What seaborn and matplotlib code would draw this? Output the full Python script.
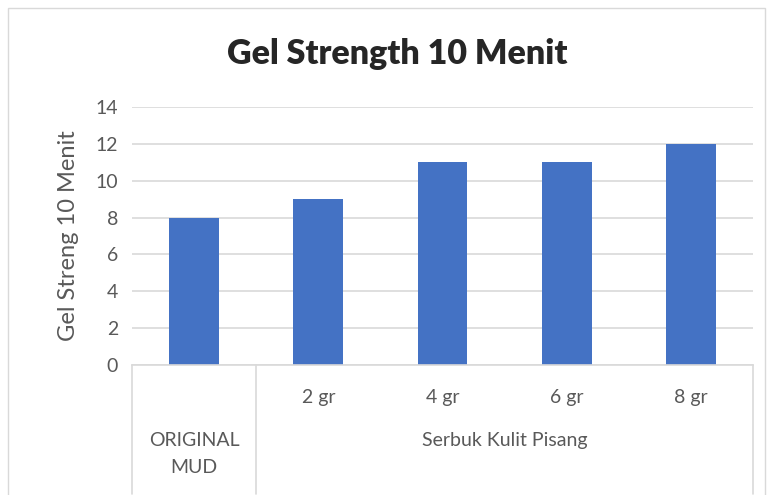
import matplotlib
matplotlib.use("Agg")
import matplotlib.pyplot as plt
import matplotlib.transforms as mtransforms
import seaborn as sns
import pandas as pd

# data
sub_labels = ["", "2 gr", "4 gr", "6 gr", "8 gr"]
group_labels = ["ORIGINAL\nMUD", "Serbuk Kulit Pisang"]
group_sizes = [1, 4]
values = [8, 9, 11, 11, 12]

df = pd.DataFrame({"cat": [str(i) for i in range(len(values))], "val": values})

sns.set_style("white")
plt.rcParams['font.family'] = ['Lato', 'DejaVu Sans']

fig = plt.figure(figsize=(7.71, 4.95), dpi=100)
ax = fig.add_axes([132/771, 1-365/495, (753-132)/771, (365-107)/495])

sns.barplot(data=df, x="cat", y="val", color="#4472C4", saturation=1,
            width=0.4, linewidth=0, ax=ax)

ax.set_ylim(0, 14)
ax.set_yticks(range(0, 15, 2))
ax.yaxis.grid(True, color="#D9D9D9", linewidth=1.2)
ax.set_axisbelow(True)
for s in ["top", "right", "left"]:
    ax.spines[s].set_visible(False)
ax.spines["bottom"].set_color("#D9D9D9")
ax.spines["bottom"].set_linewidth(1.2)
ax.tick_params(axis="y", length=0, labelsize=14, colors="#595959", pad=10)
ax.tick_params(axis="x", length=0, labelsize=14, colors="#595959", pad=17)
ax.set_xticks(range(len(values)))
ax.set_xticklabels(sub_labels)
ax.set_xlim(-0.5, len(values) - 0.5)
ax.set_xlabel("")
ax.set_ylabel("Gel Streng 10 Menit", fontsize=17, color="#595959", labelpad=12)

# multi-level category axis
trans = mtransforms.blended_transform_factory(ax.transData, ax.transAxes)
edges = [-0.5]
for n in group_sizes:
    edges.append(edges[-1] + n)
for e in edges:
    ax.plot([e, e], [0, -0.5], transform=trans, color="#D9D9D9",
            linewidth=1.2, clip_on=False)
for i, lab in enumerate(group_labels):
    mid = (edges[i] + edges[i + 1]) / 2
    ax.text(mid, -0.26, lab, transform=trans, ha="center", va="top",
            fontsize=14, color="#595959", linespacing=1.7)

fig.suptitle("Gel Strength 10 Menit", fontsize=24.5, fontweight="heavy",
             x=397/771, y=1 - 54/495, va="center")

# chart border
fig.patches.append(plt.Rectangle((8/771, -0.1), (765-8)/771, 1.1 - 8/495,
                                 transform=fig.transFigure, fill=False,
                                 edgecolor="#D9D9D9", linewidth=1))

fig.savefig("out.png", dpi=100)
